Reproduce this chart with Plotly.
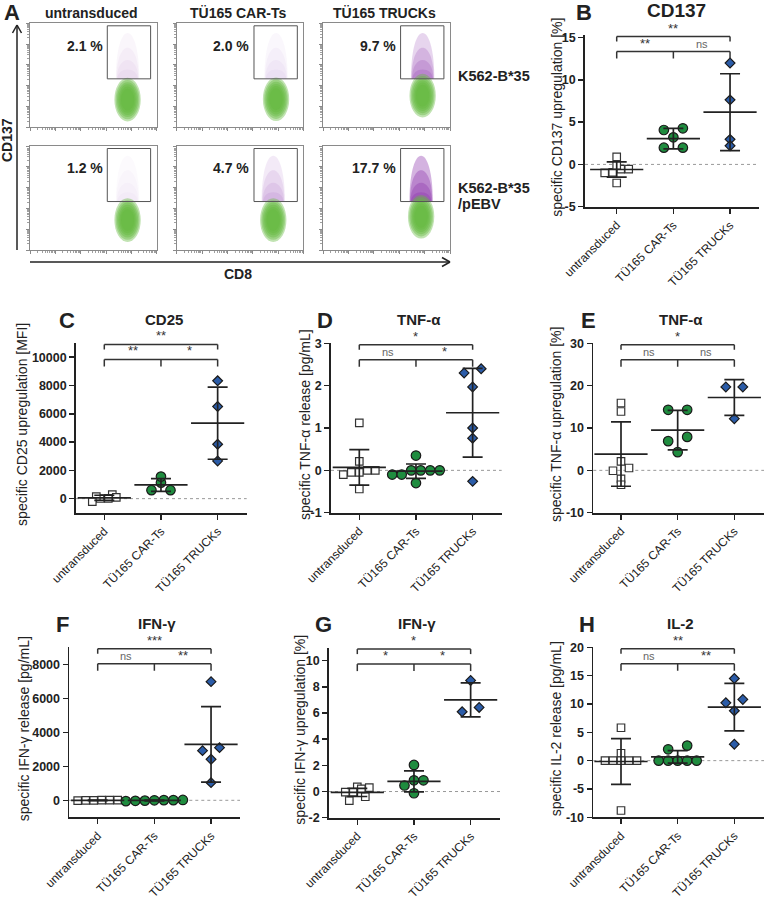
import math
import plotly.graph_objects as go

W, H = 764, 899
FONT = "Liberation Sans, Arial, Helvetica, sans-serif"
INK = "#222222"

# ------------------------------------------------------------------ data
categories = ["untransduced", "TÜ165 CAR-Ts", "TÜ165 TRUCKs"]

# Panel A (flow cytometry): % CD137+ events inside the gate
flow_row_labels = [["K562-B*35"], ["K562-B*35", "/pEBV"]]
gate_pct = [[2.1, 2.0, 9.7], [1.2, 4.7, 17.7]]
cloud_cd8 = [[3.85, 3.92, 3.92], [3.85, 3.81, 3.86]]      # population centre (decades)
cloud_cd137 = [[1.33, 1.35, 1.52], [1.44, 1.44, 1.60]]

# B  CD137 [%]
cd137_untr = [0.9, -0.55, -0.95, -0.1, -1.0, -0.55, -2.2]
cd137_car = [4.27, 4.07, 3.2, 1.98, 1.98]
cd137_truck = [11.98, 7.63, 2.96, 2.2]
cd137_mean = [-0.6, 3.05, 6.17]
cd137_sd = [0.9, 1.22, 4.55]
cd137_ticks = [-5, 0, 5, 10, 15]
cd137_range = [-5, 15.3]
cd137_sig = ["**", "**", "ns"]

# C  CD25 [MFI]
cd25_untr = [10, 290, 20, 150, -210, 90]
cd25_car = [600, 1130, 1560, 600]
cd25_truck = [8325, 6509, 3844, 2665]
cd25_mean = [60, 970, 5336]
cd25_sd = [180, 450, 2550]
cd25_ticks = [0, 2000, 4000, 6000, 8000, 10000]
cd25_range = [-1000, 11000]
cd25_sig = ["**", "**", "*"]

# D  TNF-a release [pg/mL]
tnf_rel_untr = [1.12, 0.21, 0.0, -0.05, -0.1, 0.0, -0.05, -0.44]
tnf_rel_car = [0.35, 0.0, 0.0, 0.0, -0.1, -0.1, 0.0, -0.3]
tnf_rel_truck = [2.3, 2.4, 1.97, 1.0, 0.76, -0.26]
tnf_rel_mean = [0.07, -0.02, 1.36]
tnf_rel_sd = [0.42, 0.17, 1.05]
tnf_rel_ticks = [-1, 0, 1, 2, 3]
tnf_rel_range = [-1, 3]
tnf_rel_sig = ["*", "ns", "*"]

# E  TNF-a upregulation [%]
tnf_up_untr = [15.9, 13.9, 2.1, 0.55, -0.1, -2.0, -3.4]
tnf_up_car = [14.3, 14.3, 7.9, 6.9, 4.3]
tnf_up_truck = [19.7, 19.7, 12.2]
tnf_up_mean = [3.85, 9.5, 17.2]
tnf_up_sd = [7.6, 4.65, 4.2]
tnf_up_ticks = [-10, 0, 10, 20, 30]
tnf_up_range = [-10, 30]
tnf_up_sig = ["*", "ns", "ns"]

# F  IFN-g release [pg/mL]
ifn_rel_untr = [15, -10, 0, 10, -15, 5]
ifn_rel_car = [20, -30, 10, -50, 0, -20, 10]
ifn_rel_truck = [6980, 2922, 3098, 2412, 1039]
ifn_rel_mean = [0, -9, 3290]
ifn_rel_sd = [15, 25, 2220]
ifn_rel_ticks = [0, 2000, 4000, 6000, 8000]
ifn_rel_range = [-1000, 9000]
ifn_rel_sig = ["***", "ns", "**"]

# G  IFN-g upregulation [%]
ifn_up_untr = [0.35, 0.3, -0.05, -0.4, -0.7, -0.05, 0.2]
ifn_up_car = [2.03, 0.86, 0.86, -0.13, 0.46]
ifn_up_truck = [8.49, 6.1, 6.43]
ifn_up_mean = [-0.07, 0.78, 7.0]
ifn_up_sd = [0.31, 0.8, 1.3]
ifn_up_ticks = [-2, 0, 2, 4, 6, 8, 10]
ifn_up_range = [-2, 11]
ifn_up_sig = ["*", "*", "*"]

# H  IL-2 release [pg/mL]
il2_untr = [5.8, 1.3, 0, 0, 0, 0, 0, -8.8]
il2_car = [2.65, 2.0, 0, 0, 0, 0, 0]
il2_truck = [14.5, 10.2, 10.8, 8.8, 2.9]
il2_mean = [-0.15, 0.66, 9.44]
il2_sd = [4.05, 1.1, 4.2]
il2_ticks = [-10, -5, 0, 5, 10, 15, 20]
il2_range = [-10, 20]
il2_sig = ["**", "ns", "**"]

panels = [
    dict(letter="B", title="CD137", ytitle="specific CD137 upregulation [%]",
         groups=[cd137_untr, cd137_car, cd137_truck], mean=cd137_mean, sd=cd137_sd,
         ticks=cd137_ticks, yrange=cd137_range, sig=cd137_sig),
    dict(letter="C", title="CD25", ytitle="specific CD25 upregulation [MFI]",
         groups=[cd25_untr, cd25_car, cd25_truck], mean=cd25_mean, sd=cd25_sd,
         ticks=cd25_ticks, yrange=cd25_range, sig=cd25_sig),
    dict(letter="D", title="TNF-α", ytitle="specific TNF-α release [pg/mL]",
         groups=[tnf_rel_untr, tnf_rel_car, tnf_rel_truck], mean=tnf_rel_mean, sd=tnf_rel_sd,
         ticks=tnf_rel_ticks, yrange=tnf_rel_range, sig=tnf_rel_sig),
    dict(letter="E", title="TNF-α", ytitle="specific TNF-α upregulation [%]",
         groups=[tnf_up_untr, tnf_up_car, tnf_up_truck], mean=tnf_up_mean, sd=tnf_up_sd,
         ticks=tnf_up_ticks, yrange=tnf_up_range, sig=tnf_up_sig),
    dict(letter="F", title="IFN-γ", ytitle="specific IFN-γ release [pg/mL]",
         groups=[ifn_rel_untr, ifn_rel_car, ifn_rel_truck], mean=ifn_rel_mean, sd=ifn_rel_sd,
         ticks=ifn_rel_ticks, yrange=ifn_rel_range, sig=ifn_rel_sig),
    dict(letter="G", title="IFN-γ", ytitle="specific IFN-γ upregulation [%]",
         groups=[ifn_up_untr, ifn_up_car, ifn_up_truck], mean=ifn_up_mean, sd=ifn_up_sd,
         ticks=ifn_up_ticks, yrange=ifn_up_range, sig=ifn_up_sig),
    dict(letter="H", title="IL-2", ytitle="specific IL-2 release [pg/mL]",
         groups=[il2_untr, il2_car, il2_truck], mean=il2_mean, sd=il2_sd,
         ticks=il2_ticks, yrange=il2_range, sig=il2_sig),
]

# ------------------------------------------------------------------ layout geometry (pixels)
GEOM = {
    "B": dict(c0=616.7, x0=585, x1=759, ytop=35, ybot=206.7, ytx=557, lx=584, tsize=19),
    "C": dict(c0=104.3, x0=76, x1=246.7, ytop=343, ybot=512.8, ytx=22, lx=67, tsize=15),
    "D": dict(c0=359.3, x0=331, x1=501.7, ytop=343.3, ybot=512.7, ytx=305, lx=325, tsize=15),
    "E": dict(c0=621, x0=593.3, x1=764, ytop=343.3, ybot=512.7, ytx=556, lx=588, tsize=15),
    "F": dict(c0=97.7, x0=69.3, x1=240, ytop=647.3, ybot=817.3, ytx=24, lx=62, tsize=15),
    "G": dict(c0=357.3, x0=329, x1=500, ytop=647.6, ybot=817.7, ytx=300, lx=323, tsize=15),
    "H": dict(c0=621, x0=593.3, x1=764, ytop=647.3, ybot=817.3, ytx=556, lx=587, tsize=15),
}
CAT_PX = 56.67
FLOW_COL_X = [30, 176.7, 323.3]
FLOW_ROW_Y = [23.3, 146]
FLOW_W, FLOW_H = 126.7, 104
GATE = (3.05, 4.76, 2.33, 4.88)

STYLES = [
    dict(symbol="square", size=7.5, color="white", lc="#333333", d=8.0),
    dict(symbol="circle", size=9.5, color="#1f8c3f", lc="#1a1a1a", d=9.5),
    dict(symbol="diamond", size=7.5, color="#2b5ca8", lc="#1a1a1a", d=8.5),
]


def px(x):
    return x / W


def py(y):
    return 1 - y / H


fig = go.Figure()
layout = {}
shapes = []
annotations = []


def ann(x, y, text, size, bold=False, xanchor="center", yanchor="middle",
        color=INK, textangle=0):
    annotations.append(dict(
        x=px(x), y=py(y), xref="paper", yref="paper", text=text, showarrow=False,
        font=dict(family=FONT, size=size, color=color, weight="bold" if bold else "normal"),
        xanchor=xanchor, yanchor=yanchor, textangle=textangle))


def axname(n):
    return "" if n == 1 else str(n)


# ------------------------------------------------------------------ panel A
minor_vals = [d + math.log10(k) for d in range(5) for k in range(2, 10)]
n = 0
for r in range(2):
    for c in range(3):
        n += 1
        nm = axname(n)
        x0 = FLOW_COL_X[c]
        y0 = FLOW_ROW_Y[r]
        base = dict(range=[0, 5], showgrid=False, zeroline=False, showline=True, mirror=True,
                    linecolor="#8a8a8a", linewidth=1, ticks="outside", ticklen=3,
                    tickcolor="#8a8a8a", tickvals=[0, 1, 2, 3, 4, 5], showticklabels=False,
                    minor=dict(tickvals=minor_vals, ticks="outside", ticklen=2, tickcolor="#a0a0a0"),
                    fixedrange=True, automargin=False)
        layout["xaxis" + nm] = dict(base, domain=[px(x0), px(x0 + FLOW_W)], anchor="y" + nm)
        layout["yaxis" + nm] = dict(base, domain=[py(y0 + FLOW_H), py(y0)], anchor="x" + nm)
        fig.add_trace(go.Scatter(x=[None], y=[None], xaxis="x" + nm, yaxis="y" + nm,
                                 hoverinfo="skip", showlegend=False))
        xr, yr = "x" + nm, "y" + nm
        cx, cy = cloud_cd8[r][c], cloud_cd137[r][c]
        p = gate_pct[r][c]
        gx0, gx1, gb, gt = GATE
        # CD137+ (purple) events above the gate boundary; density from the gate %
        op = min(0.5, p / 45.0)
        for w, h in [(0.46, 2.2), (0.44, 1.5), (0.42, 0.9), (0.4, 0.45)]:
            k = h * 4.0 / 3.0
            shapes.append(dict(
                type="path", xref=xr, yref=yr, layer="above", line=dict(width=0),
                fillcolor=f"rgba(145,60,175,{op:.3f})",
                path=f"M {cx - w},{gb} C {cx - w},{gb + k} {cx + w},{gb + k} {cx + w},{gb} Z"))
        # CD137- (green) population
        for s in [1.0, 0.9, 0.8, 0.7, 0.6, 0.5]:
            shapes.append(dict(type="circle", xref=xr, yref=yr, layer="above",
                               x0=cx - 0.52 * s, x1=cx + 0.52 * s,
                               y0=cy - 1.05 * s, y1=cy + 1.05 * s,
                               line=dict(width=0), fillcolor="rgba(100,186,62,0.40)"))
        shapes.append(dict(type="rect", xref=xr, yref=yr, layer="above",
                           x0=gx0, x1=gx1, y0=gb, y1=gt,
                           line=dict(color="#555555", width=1), fillcolor="rgba(0,0,0,0)"))
        ann(x0 + 74.5, y0 + 22.5, f"{p} %", 14, bold=True, xanchor="right")

for c in range(3):
    ann(FLOW_COL_X[c] + FLOW_W / 2 - 2, 13, categories[c], 14, bold=True)
ann(12, 13, "A", 22, bold=True)
ann(456, 76, flow_row_labels[0][0], 14.5, bold=True, xanchor="left")
ann(456, 188, flow_row_labels[1][0], 14.5, bold=True, xanchor="left")
ann(456, 204, flow_row_labels[1][1], 14.5, bold=True, xanchor="left")
ann(7, 140, "CD137", 14, bold=True, textangle=-90)
ann(238, 274, "CD8", 14, bold=True)


def pline(xa, ya, xb, yb, color=INK, width=1.5):
    shapes.append(dict(type="line", xref="paper", yref="paper", x0=px(xa), y0=py(ya),
                       x1=px(xb), y1=py(yb), line=dict(color=color, width=width)))


pline(17, 250, 17, 25)
pline(17, 25, 12.5, 33)
pline(17, 25, 21.5, 33)
pline(30, 262, 450, 262)
pline(450, 262, 442, 257.5)
pline(450, 262, 442, 266.5)


# ------------------------------------------------------------------ dot plots
def swarm(values, ppu, d):
    order = sorted(range(len(values)), key=lambda i: values[i])
    rows = []
    for i in order:
        if rows and (values[i] - values[rows[-1][0]]) * ppu < 0.6 * d:
            rows[-1].append(i)
        else:
            rows.append([i])
    off = [0.0] * len(values)
    for row in rows:
        m = len(row)
        ks = [-1, 1] if m == 2 else [k - (m - 1) / 2 for k in range(m)]
        for k, i in zip(ks, row):
            off[i] = k * d
    return off


for pnl in panels:
    n += 1
    nm = axname(n)
    g = GEOM[pnl["letter"]]
    lo, hi = pnl["yrange"]
    hpx = g["ybot"] - g["ytop"]
    ppu = hpx / (hi - lo)
    xr0 = (g["x0"] - g["c0"]) / CAT_PX
    xr1 = (g["x1"] - g["c0"]) / CAT_PX
    layout["xaxis" + nm] = dict(
        domain=[px(g["x0"]), px(g["x1"])], range=[xr0, xr1], anchor="y" + nm,
        tickvals=[0, 1, 2], ticktext=categories, tickangle=-45, ticks="outside",
        ticklen=5, tickwidth=1.5, tickcolor=INK, showline=True, linewidth=1.8,
        linecolor=INK, showgrid=False, zeroline=False, fixedrange=True, automargin=False,
        tickfont=dict(family=FONT, size=12, color=INK))
    layout["yaxis" + nm] = dict(
        domain=[py(g["ybot"]), py(g["ytop"])], range=[lo, hi], anchor="x" + nm,
        tickvals=pnl["ticks"], ticktext=[str(t) for t in pnl["ticks"]], ticks="outside",
        ticklen=5, tickwidth=1.5, tickcolor=INK, showline=True, linewidth=1.8,
        linecolor=INK, showgrid=False, zeroline=False, fixedrange=True, automargin=False,
        tickfont=dict(family=FONT, size=12.5, color=INK, weight="bold"))
    xr, yr = "x" + nm, "y" + nm
    # zero reference line
    shapes.append(dict(type="line", xref=xr + " domain", yref=yr, x0=0, x1=1, y0=0, y1=0,
                       layer="below", line=dict(color="#999999", width=1, dash="dot")))
    # points
    for gi, vals in enumerate(pnl["groups"]):
        st = STYLES[gi]
        off = swarm(vals, ppu, st["d"])
        fig.add_trace(go.Scatter(
            x=[gi + o / CAT_PX for o in off], y=vals, xaxis=xr, yaxis=yr, mode="markers",
            marker=dict(symbol=st["symbol"], size=st["size"], color=st["color"],
                        line=dict(color=st["lc"], width=1.2)),
            showlegend=False, hoverinfo="y"))
    # mean +/- SD
    fig.add_trace(go.Scatter(
        x=[0, 1, 2], y=pnl["mean"], xaxis=xr, yaxis=yr, mode="markers",
        marker=dict(symbol="line-ew", size=38, color=INK, line=dict(color=INK, width=1.7)),
        error_y=dict(type="data", array=pnl["sd"], visible=True, width=10,
                     thickness=1.7, color=INK),
        showlegend=False, hoverinfo="y"))

    # significance brackets
    def fy(off_px):
        return 1 - off_px / hpx

    o1, o2 = 1.5, 16.5
    seg = [((0, o1), (2, o1)), ((0, o1), (0, o1 + 5)), ((2, o1), (2, o1 + 5)),
           ((0, o2), (2, o2)), ((0, o2), (0, o2 + 7)), ((1, o2), (1, o2 + 7)),
           ((2, o2), (2, o2 + 7))]
    for (xa, oa), (xb, ob) in seg:
        shapes.append(dict(type="line", xref=xr, yref=yr + " domain", x0=xa, x1=xb,
                           y0=fy(oa), y1=fy(ob), line=dict(color="#333333", width=1.5)))
    for (xa, oo), lab in zip([(1, o1), (0.5, o2), (1.5, o2)], pnl["sig"]):
        is_ns = lab == "ns"
        annotations.append(dict(
            x=xa, y=fy(oo), xref=xr, yref=yr + " domain", text=lab, showarrow=False,
            xanchor="center", yanchor="bottom", yshift=-1 if not is_ns else 0,
            font=dict(family=FONT, size=11 if is_ns else 13,
                      color="#666666" if is_ns else "#333333")))

    # titles
    ann(g["lx"], g["ytop"] - 23, pnl["letter"], 22, bold=True)
    ann(g["c0"] + CAT_PX + 3, g["ytop"] - 24, pnl["title"], g["tsize"], bold=True)
    ann(g["ytx"], (g["ytop"] + g["ybot"]) / 2 - 3, pnl["ytitle"], 14, textangle=-90)

fig.update_layout(
    template="none",
    width=W, height=H, margin=dict(l=0, r=0, t=0, b=0, autoexpand=False),
    paper_bgcolor="white", plot_bgcolor="white", showlegend=False, hovermode=False,
    font=dict(family=FONT, color=INK), shapes=shapes, annotations=annotations, **layout)

fig.write_html("out.html", config={"displayModeBar": False, "staticPlot": True},
               post_script="document.body.style.margin='0';document.body.style.overflow='hidden';")
